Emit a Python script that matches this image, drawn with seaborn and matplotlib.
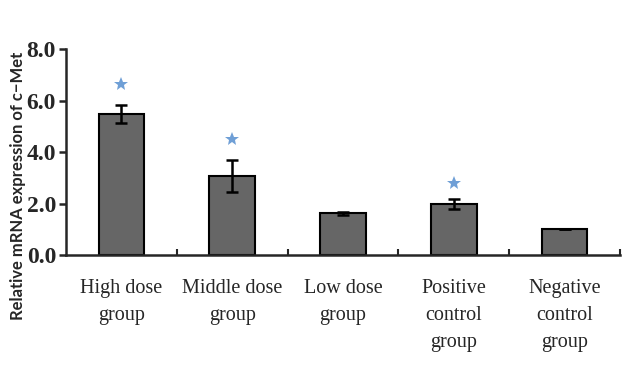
import matplotlib
matplotlib.use('Agg')
import matplotlib.pyplot as plt
import seaborn as sns
import pandas as pd

groups = ['High dose\ngroup', 'Middle dose\ngroup', 'Low dose\ngroup',
          'Positive\ncontrol\ngroup', 'Negative\ncontrol\ngroup']
expression = [5.48, 3.08, 1.62, 1.97, 1.02]
errors = [0.36, 0.63, 0.05, 0.19, 0.0]
# height of the significance star (None = no star)
star_level = [6.65, 4.52, None, 2.8, None]

df = pd.DataFrame({'group': groups, 'expression': expression})

sns.set_style('ticks')
fig = plt.figure(figsize=(6.27, 3.9), dpi=100)
ax = fig.add_axes([0.105, 0.346, 0.884, 0.528])

sns.barplot(x='group', y='expression', data=df, color='#666666', width=0.41,
            edgecolor='black', linewidth=1.5, saturation=1, ax=ax)
ax.errorbar(range(len(groups)), expression, yerr=errors, fmt='none',
            ecolor='black', elinewidth=1.8, capsize=4, capthick=1.8)

for i, s in enumerate(star_level):
    if s is not None:
        ax.plot(i, s, marker='*', color='#6f9fd6', markersize=10,
                markeredgewidth=0)

ax.set_xlim(-0.5, 4.5)
ax.set_ylim(0, 8)
ax.set_yticks([0, 2, 4, 6, 8])
ax.set_yticklabels(['0.0', '2.0', '4.0', '6.0', '8.0'],
                   fontfamily='Liberation Serif', fontweight='bold', fontsize=17)
ax.set_xticks([0.5, 1.5, 2.5, 3.5, 4.5], minor=True)
ax.tick_params(axis='x', which='major', length=0, pad=17)
ax.tick_params(axis='x', which='minor', direction='in', length=4, width=1.5)
ax.tick_params(axis='y', direction='out', length=5, width=1.8, pad=2)
ax.set_xticks(range(len(groups)))
ax.set_xticklabels(groups, fontfamily='Liberation Serif', fontsize=14.5,
                   linespacing=1.6, va='top')

ax.set_xlabel('')
ax.set_ylabel('Relative mRNA expression of c\u2212Met', fontfamily='Lato',
              fontweight='bold', fontsize=12)
ax.yaxis.set_label_coords(-0.072, 0.335)

sns.despine(ax=ax)
ax.spines['left'].set_linewidth(1.8)
ax.spines['bottom'].set_linewidth(1.8)

plt.savefig('out.png', dpi=100)
